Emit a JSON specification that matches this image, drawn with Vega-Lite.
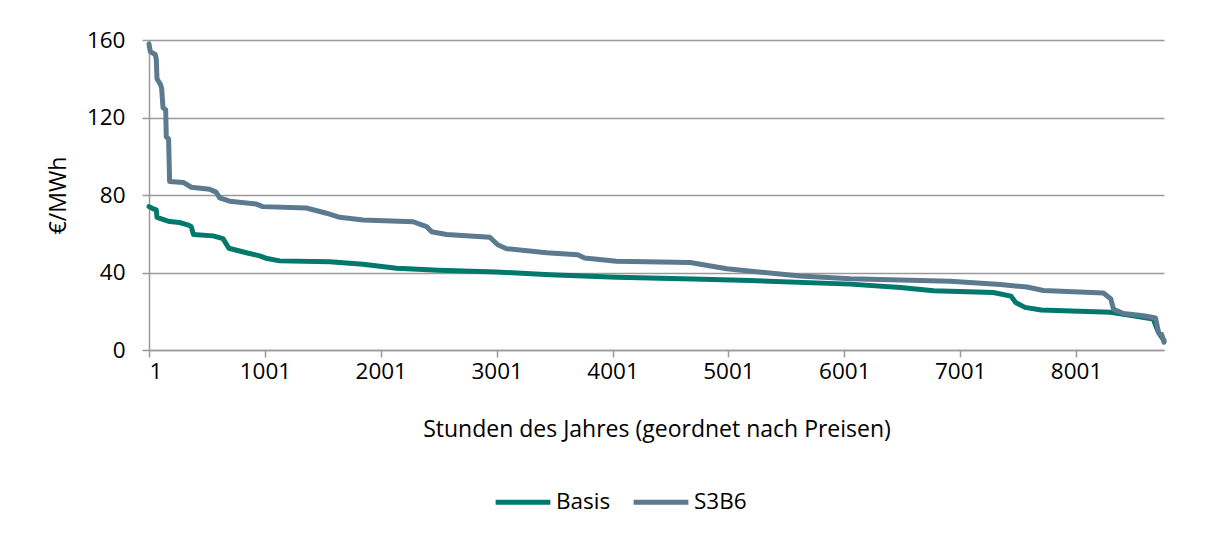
{
  "$schema": "https://vega.github.io/schema/vega-lite/v6.json",
  "autosize": {"type": "none"},
  "padding": {"left": 149, "top": 40, "right": 51, "bottom": 184},
  "width": 1015,
  "height": 310,
  "background": "white",
  "config": {
    "font": "Open Sans",
    "view": {"stroke": null},
    "axis": {
      "labelFont": "Open Sans",
      "titleFont": "Open Sans",
      "labelFontSize": 22.5,
      "titleFontSize": 23,
      "titleFontWeight": "normal",
      "labelColor": "#000000",
      "titleColor": "#000000",
      "domainColor": "#9a9a9a",
      "tickColor": "#9a9a9a",
      "gridColor": "#9a9a9a",
      "domainWidth": 1.5,
      "tickWidth": 1.5,
      "gridWidth": 1.5
    },
    "legend": {"labelFont": "Open Sans", "labelFontSize": 22.5, "labelColor": "#000000"}
  },
  "data": {
    "values": [
      {"series": "Basis", "hour": 1, "price": 74},
      {"series": "Basis", "hour": 40, "price": 72.8},
      {"series": "Basis", "hour": 64, "price": 72.3},
      {"series": "Basis", "hour": 70, "price": 68.5},
      {"series": "Basis", "hour": 179, "price": 66.3},
      {"series": "Basis", "hour": 265, "price": 65.8},
      {"series": "Basis", "hour": 334, "price": 64.6},
      {"series": "Basis", "hour": 365, "price": 63.7},
      {"series": "Basis", "hour": 385, "price": 59.6},
      {"series": "Basis", "hour": 553, "price": 58.9},
      {"series": "Basis", "hour": 640, "price": 57.5},
      {"series": "Basis", "hour": 660, "price": 55.5},
      {"series": "Basis", "hour": 690, "price": 52.5},
      {"series": "Basis", "hour": 841, "price": 50.2},
      {"series": "Basis", "hour": 956, "price": 48.6},
      {"series": "Basis", "hour": 1020, "price": 47.2},
      {"series": "Basis", "hour": 1129, "price": 46},
      {"series": "Basis", "hour": 1560, "price": 45.5},
      {"series": "Basis", "hour": 1848, "price": 44.3},
      {"series": "Basis", "hour": 2137, "price": 42.2},
      {"series": "Basis", "hour": 2500, "price": 41.2},
      {"series": "Basis", "hour": 3000, "price": 40.3},
      {"series": "Basis", "hour": 3461, "price": 38.8},
      {"series": "Basis", "hour": 4036, "price": 37.6},
      {"series": "Basis", "hour": 4700, "price": 36.6},
      {"series": "Basis", "hour": 5188, "price": 35.9},
      {"series": "Basis", "hour": 6052, "price": 34},
      {"series": "Basis", "hour": 6484, "price": 32.2},
      {"series": "Basis", "hour": 6772, "price": 30.6},
      {"series": "Basis", "hour": 7286, "price": 29.7},
      {"series": "Basis", "hour": 7440, "price": 27.8},
      {"series": "Basis", "hour": 7480, "price": 24.5},
      {"series": "Basis", "hour": 7560, "price": 22},
      {"series": "Basis", "hour": 7700, "price": 20.6},
      {"series": "Basis", "hour": 8297, "price": 19.5},
      {"series": "Basis", "hour": 8494, "price": 17.6},
      {"series": "Basis", "hour": 8667, "price": 16},
      {"series": "Basis", "hour": 8713, "price": 9},
      {"series": "Basis", "hour": 8760, "price": 5},
      {"series": "S3B6", "hour": 1, "price": 158},
      {"series": "S3B6", "hour": 12, "price": 154},
      {"series": "S3B6", "hour": 55, "price": 152.5},
      {"series": "S3B6", "hour": 64, "price": 150},
      {"series": "S3B6", "hour": 70, "price": 140},
      {"series": "S3B6", "hour": 100, "price": 137},
      {"series": "S3B6", "hour": 110, "price": 135},
      {"series": "S3B6", "hour": 122, "price": 125},
      {"series": "S3B6", "hour": 145, "price": 124},
      {"series": "S3B6", "hour": 150, "price": 110},
      {"series": "S3B6", "hour": 170, "price": 109},
      {"series": "S3B6", "hour": 179, "price": 87},
      {"series": "S3B6", "hour": 297, "price": 86.5},
      {"series": "S3B6", "hour": 366, "price": 84},
      {"series": "S3B6", "hour": 524, "price": 83},
      {"series": "S3B6", "hour": 580, "price": 81.5},
      {"series": "S3B6", "hour": 611, "price": 78.5},
      {"series": "S3B6", "hour": 697, "price": 76.8},
      {"series": "S3B6", "hour": 927, "price": 75.3},
      {"series": "S3B6", "hour": 983, "price": 74},
      {"series": "S3B6", "hour": 1359, "price": 73.3},
      {"series": "S3B6", "hour": 1532, "price": 70.6},
      {"series": "S3B6", "hour": 1647, "price": 68.5},
      {"series": "S3B6", "hour": 1848, "price": 67.1},
      {"series": "S3B6", "hour": 2280, "price": 66.2},
      {"series": "S3B6", "hour": 2396, "price": 63.7},
      {"series": "S3B6", "hour": 2440, "price": 61},
      {"series": "S3B6", "hour": 2568, "price": 59.6},
      {"series": "S3B6", "hour": 2942, "price": 58.2},
      {"series": "S3B6", "hour": 3010, "price": 54.3},
      {"series": "S3B6", "hour": 3087, "price": 52.3},
      {"series": "S3B6", "hour": 3432, "price": 50.2},
      {"series": "S3B6", "hour": 3700, "price": 49.2},
      {"series": "S3B6", "hour": 3760, "price": 47.5},
      {"series": "S3B6", "hour": 4036, "price": 45.8},
      {"series": "S3B6", "hour": 4670, "price": 45.2},
      {"series": "S3B6", "hour": 4987, "price": 41.9},
      {"series": "S3B6", "hour": 5620, "price": 38.2},
      {"series": "S3B6", "hour": 6052, "price": 36.8},
      {"series": "S3B6", "hour": 6916, "price": 35.5},
      {"series": "S3B6", "hour": 7348, "price": 33.8},
      {"series": "S3B6", "hour": 7577, "price": 32.5},
      {"series": "S3B6", "hour": 7719, "price": 30.7},
      {"series": "S3B6", "hour": 8237, "price": 29.4},
      {"series": "S3B6", "hour": 8300, "price": 26.5},
      {"series": "S3B6", "hour": 8325, "price": 21},
      {"series": "S3B6", "hour": 8410, "price": 18.8},
      {"series": "S3B6", "hour": 8583, "price": 17.7},
      {"series": "S3B6", "hour": 8687, "price": 16.5},
      {"series": "S3B6", "hour": 8713, "price": 9},
      {"series": "S3B6", "hour": 8740, "price": 8},
      {"series": "S3B6", "hour": 8760, "price": 4}
    ]
  },
  "mark": {"type": "line", "strokeWidth": 5, "strokeJoin": "round", "strokeCap": "round"},
  "encoding": {
    "x": {
      "field": "hour", "type": "quantitative",
      "scale": {"domain": [1, 8760], "nice": false, "zero": false},
      "axis": {
        "values": [1, 1001, 2001, 3001, 4001, 5001, 6001, 7001, 8001],
        "format": "d",
        "grid": false,
        "tickSize": 7,
        "labelPadding": 3,
        "title": "Stunden des Jahres (geordnet nach Preisen)",
        "titlePadding": 36
      }
    },
    "y": {
      "field": "price", "type": "quantitative",
      "scale": {"domain": [0, 160], "nice": false},
      "axis": {
        "values": [0, 40, 80, 120, 160],
        "tickSize": 7,
        "labelPadding": 17,
        "title": "€/MWh",
        "titlePadding": 16
      }
    },
    "color": {
      "field": "series", "type": "nominal",
      "scale": {"domain": ["Basis", "S3B6"], "range": ["#00786B", "#5B7A8F"]},
      "legend": {
        "title": null,
        "orient": "none",
        "direction": "horizontal",
        "legendX": 344,
        "legendY": 432,
        "symbolType": "stroke",
        "symbolSize": 3000,
        "symbolStrokeWidth": 5,
        "labelOffset": 3,
        "columnPadding": 12
      }
    },
    "order": {"field": "hour", "type": "quantitative"}
  }
}
